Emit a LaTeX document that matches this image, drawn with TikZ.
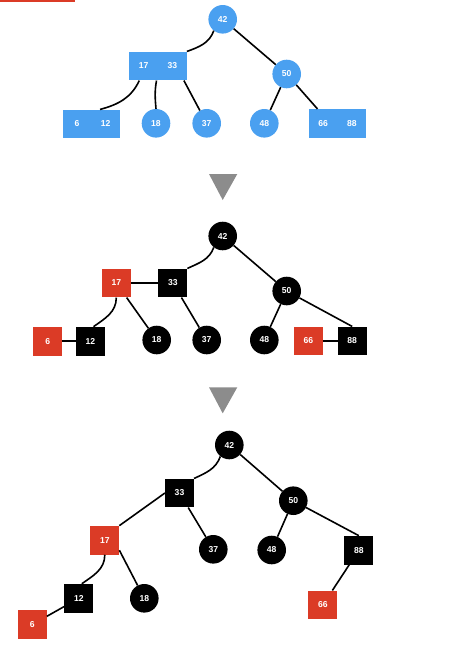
\documentclass[tikz,border=0pt]{standalone}
\usepackage{fontspec}
\setmainfont{Liberation Sans}
\usetikzlibrary{calc}
\definecolor{tblue}{RGB}{74,160,240}
\definecolor{tred}{RGB}{219,59,38}
\definecolor{tgray}{RGB}{140,140,140}
\begin{document}
\begin{tikzpicture}[x=1pt,y=1pt,
  every node/.style={font=\fontsize{8.6}{9}\selectfont\bfseries, text=white, inner sep=0pt},
  bc/.style={circle, fill=tblue, minimum size=28.6pt},
  br/.style={rectangle, fill=tblue, minimum width=57.4pt, minimum height=28.7pt},
  kc/.style={circle, fill=black, minimum size=28.6pt},
  ks/.style={rectangle, fill=black, minimum size=28.7pt},
  rs/.style={rectangle, fill=tred, minimum size=28.7pt},
  edge/.style={draw=black, line width=1.6pt},
  arrowtri/.style={fill=tgray}]
\useasboundingbox (0,0) rectangle (457,-654);
\fill[tred] (0,0) rectangle (75,-2);

% ---------- panel 1 ----------
\node[bc] (a42) at (222.7,-19.3) {42};
\node[br] (a1733) at (158,-66) {\makebox[28.7pt]{17}\makebox[28.7pt]{33}};
\node[bc] (a50) at (286.7,-74) {50};
\node[br] (a612) at (91.3,-124) {\makebox[28.7pt]{6}\makebox[28.7pt]{12}};
\node[bc] (a18) at (156,-123.3) {18};
\node[bc] (a37) at (206.7,-123.3) {37};
\node[bc] (a48) at (264.3,-123.3) {48};
\node[br] (a6688) at (337.5,-123.5) {\makebox[28.7pt]{66}\makebox[28.7pt]{88}};

\draw[edge] (a42.-128) to[out=-110,in=20] (a1733.north east);
\draw[edge] (a42) -- (a50);
\draw[edge] ($(a1733.south)+(-18.7,0)$) to[out=-115,in=15] ($(a612.north)+(8.7,0)$);
\draw[edge] ($(a1733.south)+(-1.5,0)$) to[out=-100,in=95] (a18.north);
\draw[edge] ($(a1733.south east)+(-3,0)$) -- (a37);
\draw[edge] (a50) -- (a48);
\draw[edge] (a50) -- ($(a6688.north)+(-20,0)$);

\fill[arrowtri] (209,-174) -- (237.3,-174) -- (222.7,-200) -- cycle;

% ---------- panel 2 ----------
\node[kc] (b42) at (222.7,-236) {42};
\node[rs] (b17) at (116.3,-283) {17};
\node[ks] (b33) at (172.8,-283) {33};
\node[kc] (b50) at (286.7,-291) {50};
\node[rs] (b6) at (47.7,-341.2) {6};
\node[ks] (b12) at (90.5,-341.2) {12};
\node[kc] (b18) at (156.7,-340) {18};
\node[kc] (b37) at (206.7,-340) {37};
\node[kc] (b48) at (264.3,-340) {48};
\node[rs] (b66) at (308.3,-341) {66};
\node[ks] (b88) at (352.2,-341) {88};

\draw[edge] (b42.-128) to[out=-110,in=25] (b33.north east);
\draw[edge] (b42) -- (b50);
\draw[edge] (b17) -- (b33);
\draw[edge] (b17.south) to[out=-90,in=35] ($(b12.north)+(3,0)$);
\draw[edge] (b17) -- (b18);
\draw[edge] (b33) -- (b37);
\draw[edge] (b50) -- (b48);
\draw[edge] (b50) -- (b88.north);
\draw[edge] (b6) -- (b12);
\draw[edge] (b66) -- (b88);

\fill[arrowtri] (209,-387.3) -- (237.3,-387.3) -- (222.7,-413.3) -- cycle;

% ---------- panel 3 ----------
\node[kc] (c42) at (229.3,-445) {42};
\node[ks] (c33) at (179.5,-493) {33};
\node[kc] (c50) at (293.3,-500.7) {50};
\node[rs] (c17) at (104.8,-540.2) {17};
\node[kc] (c37) at (213.3,-549.3) {37};
\node[kc] (c48) at (271.7,-550) {48};
\node[ks] (c88) at (358.8,-550.2) {88};
\node[ks] (c12) at (78.8,-598.3) {12};
\node[kc] (c18) at (144.3,-598.3) {18};
\node[rs] (c6) at (32.3,-624.5) {6};
\node[rs] (c66) at (322.8,-605) {66};

\draw[edge] (c42.-128) to[out=-110,in=25] (c33.north east);
\draw[edge] (c42) -- (c50);
\draw[edge] (c33.west) -- (c17.north east);
\draw[edge] (c33) -- (c37);
\draw[edge] (c17.south) to[out=-90,in=35] ($(c12.north)+(3,0)$);
\draw[edge] ($(c17.east)+(0,-10)$) -- (c18);
\draw[edge] (c12) -- (c6);
\draw[edge] (c50) -- (c48);
\draw[edge] (c50) -- (c88.north);
\draw[edge] (c88) -- (c66);
\end{tikzpicture}
\end{document}
